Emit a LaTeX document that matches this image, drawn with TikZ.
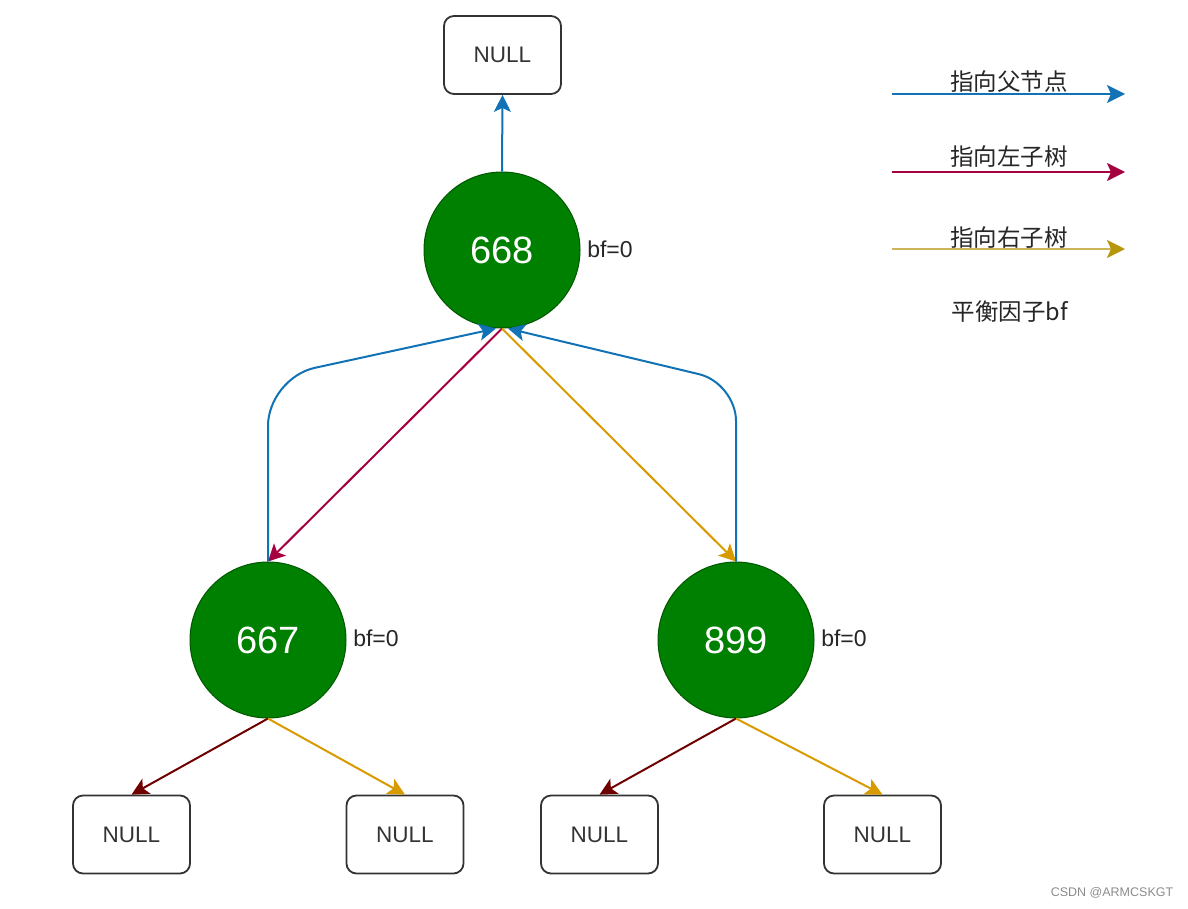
\documentclass[tikz,border=0pt]{standalone}
\usepackage{fontspec}
\setmainfont{Liberation Sans}
\newfontfamily\cjk{Noto Sans CJK SC}
\usetikzlibrary{arrows.meta,calc}
\definecolor{pblue}{HTML}{1272B6}
\definecolor{lred}{HTML}{A50040}
\definecolor{ryel}{HTML}{D79B00}
\definecolor{legyel}{HTML}{CDB55A}
\definecolor{legyelhead}{HTML}{B8960A}
\definecolor{dred}{HTML}{6F0000}
\definecolor{gfill}{HTML}{008000}
\definecolor{gline}{HTML}{005700}
\definecolor{txt}{HTML}{333333}
\tikzset{
  treenode/.style={circle, fill=gfill, draw=gline, line width=1pt, minimum size=156pt, inner sep=0pt, text=white, font=\fontsize{38}{42}\selectfont},
  nullbox/.style={rectangle, rounded corners=10pt, draw=txt, line width=1.8pt, minimum width=117pt, minimum height=78pt, text=txt, font=\fontsize{22.5}{26}\selectfont},
  bflabel/.style={text=black!85, font=\fontsize{23}{26}\selectfont, inner sep=0pt},
  legtext/.style={text=black!85, font=\cjk\fontsize{23.5}{27}\selectfont, inner sep=0pt},
  conn/.style={line width=2pt, -{Stealth[length=17pt,width=17pt,inset=4pt]}},
  legarrow/.style={line width=2pt, -{Stealth[length=18pt,width=18pt,inset=4pt]}},
}
\begin{document}
\begin{tikzpicture}[x=1pt,y=-1pt]
\useasboundingbox (0,0) rectangle (1188,908);
% nodes
\node[nullbox] (ntop) at (502.5,55) {NULL};
\node[treenode] (n668) at (502,250) {668};
\node[treenode] (n667) at (268,640) {667};
\node[treenode] (n899) at (736,640) {899};
\node[nullbox] (b1) at (131.5,834.5) {NULL};
\node[nullbox] (b2) at (405,834.5) {NULL};
\node[nullbox] (b3) at (599.5,834.5) {NULL};
\node[nullbox] (b4) at (882.5,834.5) {NULL};
\node[bflabel] (bf668) at (610,249) {bf=0};
\node[bflabel] (bf667) at (376,638) {bf=0};
\node[bflabel] (bf899) at (844,638) {bf=0};
% connectors
\draw[conn, pblue] (n668.north) -- (ntop.south);
\draw[conn, lred] (n668.south) -- (n667.north);
\draw[conn, ryel] (n668.south) -- (n899.north);
\coordinate (pl) at ($(n668.south)+(-6,0)$);
\coordinate (pr) at ($(n668.south)+(6,0)$);
\draw[conn, pblue, rounded corners=48pt] (n667.north) -- (268,378) -- (pl);
\draw[conn, pblue, rounded corners=38pt] (n899.north) -- (736,383) -- (pr);
\draw[conn, dred] (n667.south) -- (b1.north);
\draw[conn, ryel] (n667.south) -- (b2.north);
\draw[conn, dred] (n899.south) -- (b3.north);
\draw[conn, ryel] (n899.south) -- (b4.north);
% legend
\coordinate (l1a) at (892,94); \coordinate (l1b) at (1125,94);
\coordinate (l2a) at (892,172); \coordinate (l2b) at (1125,172);
\coordinate (l3a) at (892,249); \coordinate (l3b) at (1125,249);
\draw[legarrow, pblue] (l1a) -- (l1b);
\draw[legarrow, lred] (l2a) -- (l2b);
\draw[legarrow, line width=2.6pt, legyel, -{Stealth[length=18pt,width=18pt,inset=4pt,fill=legyelhead,color=legyelhead]}] (l3a) -- (l3b);
\node[legtext] (t1) at (1009,82) {指向父节点};
\node[legtext] (t2) at (1009,157) {指向左子树};
\node[legtext] (t3) at (1009,238) {指向右子树};
\node[legtext] (t4) at (1010,312) {平衡因子bf};
\node[text=black!45, font=\fontsize{12.5}{14}\selectfont, inner sep=0pt] (wm) at (1112,893) {CSDN @ARMCSKGT};
\end{tikzpicture}
\end{document}
